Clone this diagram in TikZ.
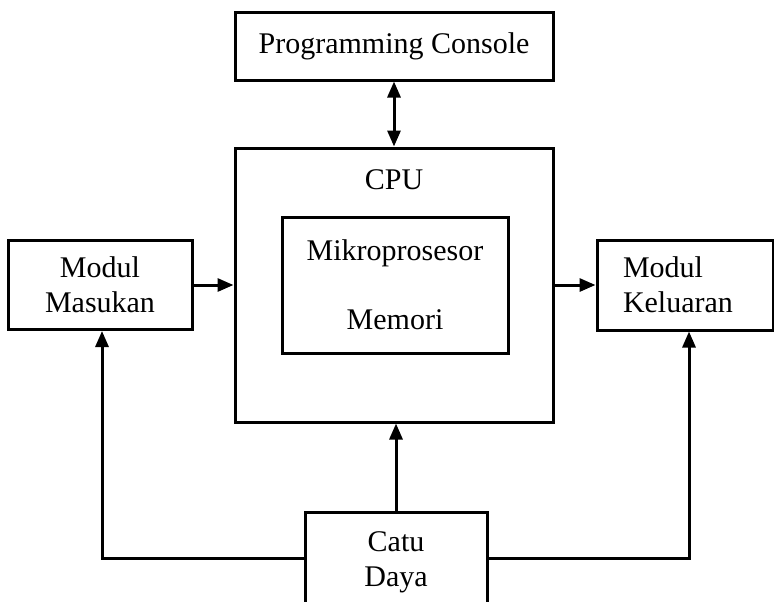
\documentclass[tikz,border=0pt]{standalone}
\usepackage{fontspec}
\setmainfont{Liberation Serif}
\usetikzlibrary{arrows.meta}

\begin{document}
\begin{tikzpicture}[x=0.5pt, y=-0.5pt, line width=1.5pt,
    >={Triangle[length=8pt,width=6.5pt]},
    box/.style = {draw, inner sep=0pt, align=center, font=\fontsize{15}{17.5}\selectfont},
    txt/.style = {inner sep=0pt, font=\fontsize{15}{17.5}\selectfont}]
  \useasboundingbox (0,0) rectangle (774,601);
  % blocks
  \node[box, minimum width=159pt, minimum height=34pt] (console) at (394,46) {Programming Console};
  \node[box, minimum width=159pt, minimum height=137pt] (cpu) at (394,285) {};
  \node[txt] (cputxt) at (394,180) {CPU};
  \node[box, minimum width=113pt, minimum height=68pt] (core) at (395,285) {Mikroprosesor\\[17pt]Memori};
  \node[box, minimum width=92pt, minimum height=44.5pt] (masukan) at (100,285) {Modul\\Masukan};
  \node[box, align=left, text width=62pt, minimum width=88pt, minimum height=45pt] (keluaran) at (685,285) {Modul\\Keluaran};
  \node[box, minimum width=91pt, minimum height=50pt] (catu) at (396,562) {Catu\\Daya};
  % connections
  \draw[<->] (console) -- (cpu);
  \draw[->] (masukan) -- (cpu);
  \draw[->] (cpu) -- (keluaran);
  \draw[->] (catu.north) -- (catu.north |- cpu.south);
  \draw[->] ([yshift=2pt]catu.west) -| ([xshift=1pt]masukan.south);
  \draw[->] ([yshift=2pt]catu.east) -| ([xshift=2pt]keluaran.south);
\end{tikzpicture}
\end{document}
